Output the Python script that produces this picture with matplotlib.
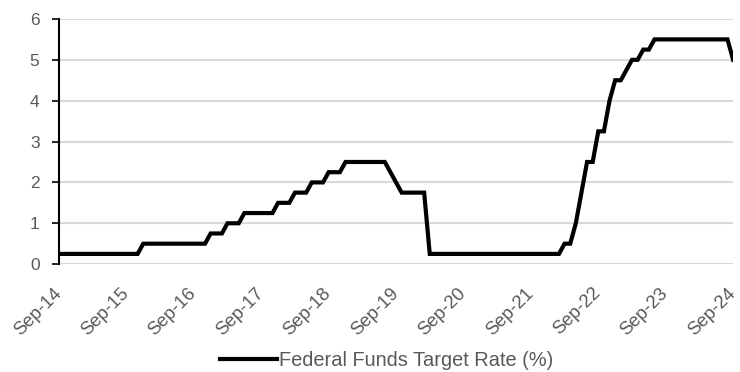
import matplotlib
matplotlib.use("Agg")
import matplotlib.pyplot as plt
import matplotlib.transforms as mtransforms
import numpy as np

# Monthly Federal Funds target rate (upper bound, %), Sep-2014 .. Sep-2024
rates = [
    0.25, 0.25, 0.25, 0.25,                                   # Sep14-Dec14
    0.25, 0.25, 0.25, 0.25, 0.25, 0.25, 0.25, 0.25, 0.25, 0.25, 0.25, 0.5,   # 2015
    0.5, 0.5, 0.5, 0.5, 0.5, 0.5, 0.5, 0.5, 0.5, 0.5, 0.5, 0.75,             # 2016
    0.75, 0.75, 1.0, 1.0, 1.0, 1.25, 1.25, 1.25, 1.25, 1.25, 1.25, 1.5,      # 2017
    1.5, 1.5, 1.75, 1.75, 1.75, 2.0, 2.0, 2.0, 2.25, 2.25, 2.25, 2.5,        # 2018
    2.5, 2.5, 2.5, 2.5, 2.5, 2.5, 2.5, 2.25, 2.0, 1.75, 1.75, 1.75,          # 2019
    1.75, 1.75, 0.25, 0.25, 0.25, 0.25, 0.25, 0.25, 0.25, 0.25, 0.25, 0.25,  # 2020
    0.25, 0.25, 0.25, 0.25, 0.25, 0.25, 0.25, 0.25, 0.25, 0.25, 0.25, 0.25,  # 2021
    0.25, 0.25, 0.5, 0.5, 1.0, 1.75, 2.5, 2.5, 3.25, 3.25, 4.0, 4.5,         # 2022
    4.5, 4.75, 5.0, 5.0, 5.25, 5.25, 5.5, 5.5, 5.5, 5.5, 5.5, 5.5,           # 2023
    5.5, 5.5, 5.5, 5.5, 5.5, 5.5, 5.5, 5.5, 5.0,                             # Jan24-Sep24
]
tick_labels = ["Sep-14", "Sep-15", "Sep-16", "Sep-17", "Sep-18", "Sep-19",
               "Sep-20", "Sep-21", "Sep-22", "Sep-23", "Sep-24"]
series_name = "Federal Funds Target Rate (%)"

plt.rcParams['font.family'] = ['Liberation Sans', 'DejaVu Sans']
gray = '#595959'

fig = plt.figure(figsize=(7.4, 3.72), dpi=100)
ax = fig.add_axes([0.0797, 0.290, 0.911, 0.659])

months = np.arange(len(rates))
ax.plot(months, rates, color='black', linewidth=3, solid_joinstyle='miter',
        label=series_name, zorder=3)

ax.set_xlim(0, len(rates) - 1)
ax.set_ylim(0, 6)
ax.set_yticks(range(0, 7))
ax.yaxis.grid(True, color='#d9d9d9', linewidth=1.5)
ax.set_axisbelow(True)

ax.set_xticks(np.arange(0, len(rates), 12))
ax.set_xticklabels(tick_labels, rotation=45, ha='right', va='center',
                   rotation_mode='anchor', color=gray, fontsize=13.3)
ax.tick_params(axis='x', length=0, pad=19)
offset = mtransforms.ScaledTranslation(0, 0, fig.dpi_scale_trans)
for lab in ax.get_xticklabels():
    lab.set_transform(lab.get_transform() + offset)
ax.tick_params(axis='y', length=5, width=1.2, color='black', pad=9,
               labelcolor=gray, labelsize=12.5)

for s in ['top', 'right', 'bottom']:
    ax.spines[s].set_visible(False)
ax.spines['left'].set_color('black')
ax.spines['left'].set_linewidth(1.5)

leg = fig.legend(loc='center', bbox_to_anchor=(0.522, 0.03), frameon=False,
                 fontsize=14.4, handlelength=2.85, handletextpad=0.1,
                 borderpad=0, borderaxespad=0)
for t in leg.get_texts():
    t.set_color(gray)

fig.savefig('out.png', dpi=100)
